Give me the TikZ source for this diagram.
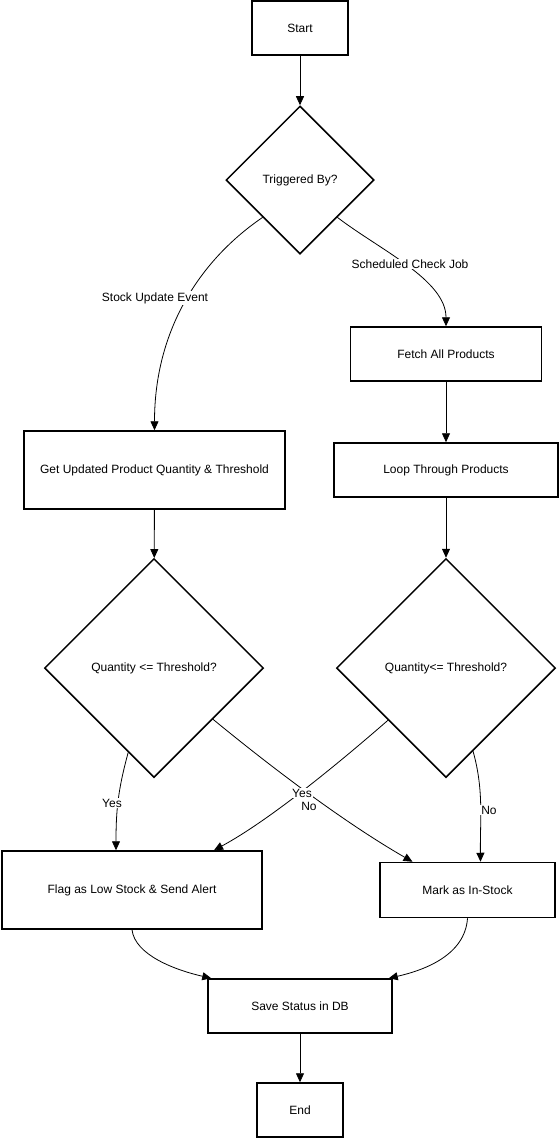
\documentclass[tikz,border=0pt]{standalone}
\usepackage{fontspec}
\setmainfont{Liberation Sans}
\usetikzlibrary{shapes.geometric}
\usetikzlibrary{arrows.meta}

\begin{document}
\begin{tikzpicture}[x=1pt,y=-1pt,font=\fontsize{12}{14}\selectfont,
  box/.style={draw,line width=1.5pt,inner sep=0pt},
  decision/.style={draw,diamond,line width=1.5pt,inner sep=0pt,minimum width=#1,minimum height=#1},
  flow/.style={line width=0.8pt,-{Triangle[length=9pt,width=8pt]}},
  lbl/.style={fill=white,inner sep=1pt}]
\useasboundingbox (0,0) rectangle (559,1138);
% the nodes
%     top
\node[box,minimum width=96pt,minimum height=54pt] (start) at (300,28) {Start};
\node[decision=148pt] (trig) at (300,180) {Triggered By?};
%     left branch
\node[box,minimum width=261pt,minimum height=78pt] (getq) at (154.5,470) {Get Updated Product Quantity \& Threshold};
\node[decision=219pt] (qleft) at (154,668) {Quantity <= Threshold?};
%     right branch
\node[box,minimum width=191pt,minimum height=54pt] (fetch) at (446,354) {Fetch All Products};
\node[box,minimum width=224pt,minimum height=54pt] (loop) at (446,470) {Loop Through Products};
\node[decision=219pt] (qright) at (446,668) {Quantity<= Threshold?};
%     results
\node[box,minimum width=260pt,minimum height=78pt] (flag) at (132,890) {Flag as Low Stock \& Send Alert};
\node[box,minimum width=175pt,minimum height=55pt] (mark) at (467.5,890) {Mark as In-Stock};
%     bottom
\node[box,minimum width=184pt,minimum height=54pt] (save) at (300,1006) {Save Status in DB};
\node[box,minimum width=86pt,minimum height=54pt] (end) at (300,1110) {End};
% the connectors
\draw[flow] (start) -- (trig);
\draw[flow] (trig.south west) .. controls (200,260) and (154.5,330) .. (getq.north);
\draw[flow] (trig.south east) .. controls (380,250) and (446,280) .. (fetch.north);
\draw[flow] (fetch) -- (loop);
\draw[flow] (getq) -- (qleft);
\draw[flow] (loop) -- (qright);
\draw[flow] (qleft.253) .. controls (118,790) and (116,810) .. ([xshift=-16pt]flag.north);
\draw[flow] (qleft.319) .. controls (265,762) and (340,820) .. ([xshift=-55pt]mark.north);
\draw[flow] (qright.222) .. controls (340,762) and (270,820) .. ([xshift=82pt]flag.north);
\draw[flow] (qright.288) .. controls (484,790) and (480,820) .. ([xshift=13pt]mark.north);
\draw[flow] (flag.south) .. controls (135,955) and (175,970) .. ([xshift=4pt]save.north west);
\draw[flow] (mark.south) .. controls (465,955) and (425,970) .. ([xshift=-4pt]save.north east);
\draw[flow] (save) -- (end);
% the labels
\node[lbl] (sue) at (155,298) {Stock Update Event};
\node[lbl] (scj) at (410,264) {Scheduled Check Job};
\node[lbl] (yes1) at (112,803) {Yes};
\node[lbl] (no1) at (309,806) {No};
\node[lbl] (yes2) at (302,793) {Yes};
\node[lbl] (no2) at (489,810) {No};
\end{tikzpicture}
\end{document}
